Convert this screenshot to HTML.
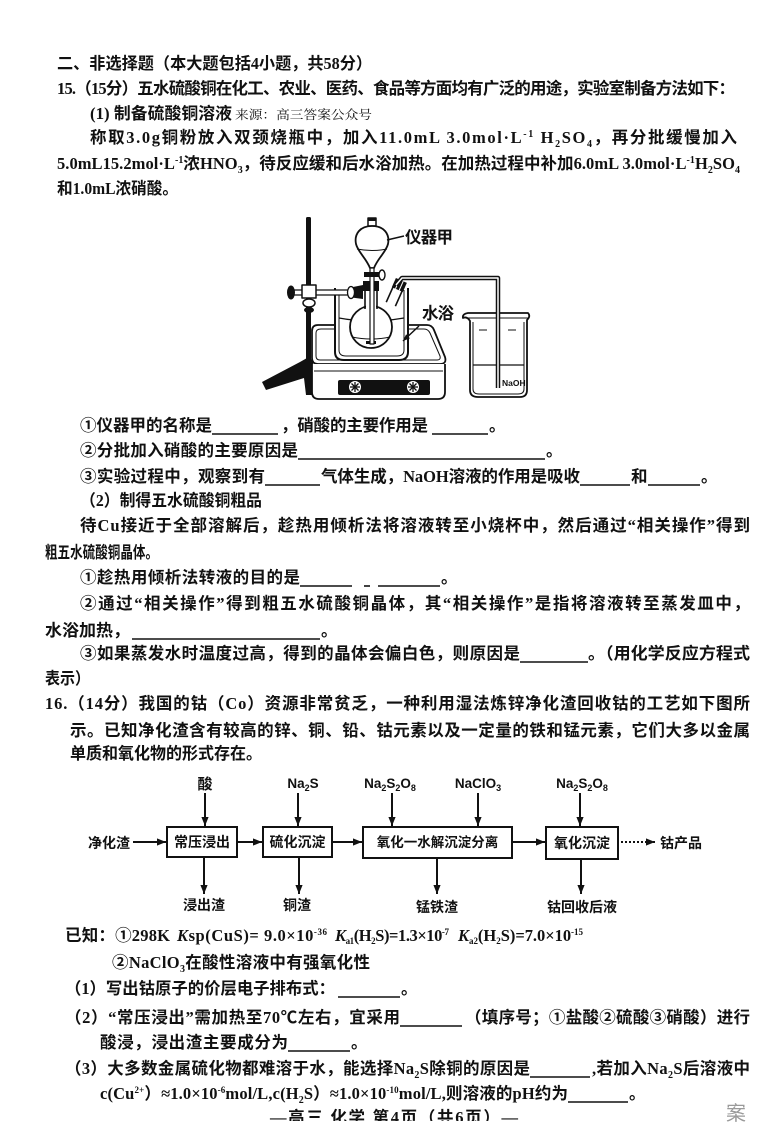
<!DOCTYPE html>
<html><head><meta charset="utf-8">
<style>
html,body{margin:0;padding:0;background:#fff;}
svg{display:block;}
text{font-family:"Liberation Serif","Noto Sans CJK SC",sans-serif;font-weight:bold;font-size:16.5px;fill:#111;}
.fc text{font-family:"Liberation Sans","Noto Sans CJK SC",sans-serif;font-size:14px;}
.ul{stroke:#111;stroke-width:1.6;}
</style></head>
<body>
<svg width="778" height="1141" viewBox="0 0 778 1141" xmlns="http://www.w3.org/2000/svg">
<defs>
<marker id="ah" viewBox="0 0 10 10" refX="10" refY="5" markerWidth="9" markerHeight="9" markerUnits="userSpaceOnUse" orient="auto">
<path d="M0,1 L10,5 L0,9 Z" fill="#111"/></marker>
<marker id="ah2" viewBox="0 0 10 10" refX="10" refY="5" markerWidth="7" markerHeight="7" markerUnits="userSpaceOnUse" orient="auto">
<path d="M0,1 L10,5 L0,9 Z" fill="#111"/></marker>
</defs>
<rect width="778" height="1141" fill="#fff"/>

<!-- Section header & Q15 text -->
<text x="57" y="69" textLength="315" lengthAdjust="spacingAndGlyphs">二、非选择题（本大题包括4小题，共58分）</text>
<text x="57" y="94" textLength="678" lengthAdjust="spacing">15.（15分）五水硫酸铜在化工、农业、医药、食品等方面均有广泛的用途，实验室制备方法如下：</text>
<text x="90" y="119" textLength="142" lengthAdjust="spacingAndGlyphs">(1) 制备硫酸铜溶液</text>
<text x="235" y="119" textLength="137" lengthAdjust="spacingAndGlyphs" style="font-family:'Liberation Serif','Noto Serif CJK SC',serif;font-size:12.5px;font-weight:normal;">来源：高三答案公众号</text>
<text x="90" y="143" textLength="647" lengthAdjust="spacing">称取3.0g铜粉放入双颈烧瓶中，加入11.0mL 3.0mol·L<tspan dy="-6" font-size="10">-1</tspan><tspan dy="6"> H</tspan><tspan dy="4" font-size="10">2</tspan><tspan dy="-4">SO</tspan><tspan dy="4" font-size="10">4</tspan><tspan dy="-4">，再分批缓慢加入</tspan></text>
<text x="57" y="169" textLength="683" lengthAdjust="spacing">5.0mL15.2mol·L<tspan dy="-6" font-size="10">-1</tspan><tspan dy="6">浓HNO</tspan><tspan dy="4" font-size="10">3</tspan><tspan dy="-4">，待反应缓和后水浴加热。在加热过程中补加6.0mL 3.0mol·L</tspan><tspan dy="-6" font-size="10">-1</tspan><tspan dy="6">H</tspan><tspan dy="4" font-size="10">2</tspan><tspan dy="-4">SO</tspan><tspan dy="4" font-size="10">4</tspan></text>
<text x="57" y="194" textLength="121" lengthAdjust="spacingAndGlyphs">和1.0mL浓硝酸。</text>

<!-- Apparatus -->
<g stroke="#111" stroke-width="1.8" fill="#fff" stroke-linejoin="round">
  <rect x="306" y="217" width="5" height="172" fill="#111" stroke="none" rx="1.5"/>
  <path d="M262,382 L300,362 L307,358 L313,360 L313,395 L306,395 L304,378 L266,390 Z" fill="#111" stroke="none"/>
  <path d="M318,325 L427,325 Q432,325 434,330 L445,357 Q447,364 440,364 L318,364 Q312,364 312,358 L312,331 Q312,325 318,325 Z"/>
  <path d="M321,329 L424,329 Q428,329 430,333 L440,356 Q441,360 437,360 L320,360 Q316,360 316,356 L316,333 Q316,329 321,329 Z" fill="none" stroke-width="1"/>
  <path d="M312,364 L312,392 Q312,399 319,399 L438,399 Q445,399 445,392 L445,364"/>
  <line x1="314" y1="371" x2="443" y2="371" stroke-width="1"/>
  <rect x="338" y="380" width="92" height="15" rx="2" fill="#111" stroke="none"/>
  <circle cx="355" cy="387" r="6" fill="#fff" stroke="none"/>
  <circle cx="413" cy="387" r="6" fill="#fff" stroke="none"/>
  <g stroke="#111" stroke-width="1.3">
    <line x1="350" y1="387" x2="360" y2="387"/><line x1="355" y1="382" x2="355" y2="392"/>
    <line x1="351.5" y1="383.5" x2="358.5" y2="390.5"/><line x1="358.5" y1="383.5" x2="351.5" y2="390.5"/>
    <line x1="408" y1="387" x2="418" y2="387"/><line x1="413" y1="382" x2="413" y2="392"/>
    <line x1="409.5" y1="383.5" x2="416.5" y2="390.5"/><line x1="416.5" y1="383.5" x2="409.5" y2="390.5"/>
  </g>
  <path d="M335,288 L335,352 Q335,360 344,360 L399,360 Q408,360 408,352 L408,288" stroke-width="2"/>
  <path d="M339,290 L339,350 Q339,356 346,356 L397,356 Q404,356 404,350 L404,290" fill="none" stroke-width="1"/>
  <path d="M339,318 Q371,324 404,318" fill="none" stroke-width="1.2"/>
  <circle cx="371" cy="327" r="21"/>
  <path d="M352,337 Q371,341 390,337" fill="none" stroke-width="1"/>
  <rect x="366" y="341" width="10" height="3" fill="#111" stroke="none"/>
  <rect x="366" y="284" width="10" height="28" fill="#fff" stroke="none"/>
  <path d="M365,309 L365,284 M377,284 L377,309" fill="none" stroke-width="1.6"/>
  <rect x="363" y="281" width="16" height="10" fill="#111" stroke="none"/>
  <g transform="translate(390,306) rotate(24)">
    <rect x="-5" y="-24" width="10" height="22" fill="#fff" stroke="none"/>
    <path d="M-5,-2 L-5,-24 M5,-24 L5,-2" fill="none" stroke-width="1.6"/>
    <rect x="-6" y="-28" width="12" height="10" fill="#111" stroke="none"/>
    <line x1="-2" y1="-28" x2="-2" y2="-18" stroke="#fff" stroke-width="1"/>
    <line x1="2" y1="-28" x2="2" y2="-18" stroke="#fff" stroke-width="1"/>
  </g>
  <rect x="290" y="290" width="66" height="5" stroke-width="1.3"/>
  <ellipse cx="291" cy="292.5" rx="4" ry="7" fill="#111" stroke="none"/>
  <rect x="302" y="285" width="14" height="13" stroke-width="1.5"/>
  <ellipse cx="309" cy="303" rx="6" ry="4" stroke-width="1.5"/>
  <ellipse cx="309" cy="310" rx="5" ry="3" fill="#111" stroke="none"/>
  <path d="M348,288 L363,285 L363,299 L348,297 Z" fill="#111" stroke="none"/>
  <ellipse cx="351" cy="292.5" rx="3.5" ry="6" fill="#fff" stroke-width="1.3"/>
  <rect x="368" y="218" width="8" height="8" stroke-width="1.5"/>
  <rect x="368" y="218" width="8" height="3" fill="#111" stroke="none"/>
  <path d="M372,226 C360,226 354,234 356,244 C358,252 366,258 370,268 L374,268 C378,258 386,252 388,244 C390,234 384,226 372,226 Z"/>
  <path d="M357,249 Q372,252 387,249" fill="none" stroke-width="1"/>
  <rect x="370" y="268" width="4" height="76" stroke-width="1.2"/>
  <rect x="364" y="272" width="16" height="5" fill="#111" stroke="none"/>
  <ellipse cx="382" cy="275" rx="3" ry="5" fill="#fff" stroke-width="1.4"/>
  <line x1="387" y1="240" x2="404" y2="236" stroke-width="1.5"/>
  <path d="M463,318 Q467,316 470,321 L470,390 Q470,397 478,397 L520,397 Q527,397 527,390 L527,320 Q531,316 528,313 L468,313 Q462,314 463,318 Z"/>
  <path d="M473,322 L473,389 Q473,394 479,394 L518,394 Q524,394 524,389 L524,322" fill="none" stroke-width="1"/>
  <line x1="466" y1="318" x2="528" y2="318" stroke-width="1"/>
  <line x1="473" y1="365" x2="524" y2="365" stroke-width="1.2"/>
  <line x1="479" y1="330" x2="487" y2="330" stroke-width="1"/>
  <line x1="508" y1="330" x2="516" y2="330" stroke-width="1"/>
  <polyline points="396,285 402,278 498,278 498,388" fill="none" stroke="#111" stroke-width="4.5"/>
  <polyline points="396,285 402,278 498,278 498,388" fill="none" stroke="#fff" stroke-width="1.5"/>
  <line x1="419" y1="326" x2="403" y2="341" stroke-width="1.5" marker-end="url(#ah2)"/>
</g>
<text x="405" y="243" textLength="48" lengthAdjust="spacing">仪器甲</text>
<text x="422" y="319" textLength="32" lengthAdjust="spacing">水浴</text>
<text x="502" y="386" style="font-family:'Liberation Sans',sans-serif;font-size:8.5px;">NaOH</text>

<!-- Q15 questions -->
<text x="80" y="431" textLength="132" lengthAdjust="spacingAndGlyphs">①仪器甲的名称是</text>
<line class="ul" x1="212" y1="434" x2="278" y2="434"/>
<text x="281" y="431" textLength="147" lengthAdjust="spacing">，硝酸的主要作用是</text>
<line class="ul" x1="432" y1="434" x2="488" y2="434"/>
<text x="489" y="431">。</text>

<text x="80" y="456" textLength="218" lengthAdjust="spacing">②分批加入硝酸的主要原因是</text>
<line class="ul" x1="298" y1="459" x2="545" y2="459"/>
<text x="546" y="456">。</text>

<text x="80" y="482" textLength="185" lengthAdjust="spacing">③实验过程中，观察到有</text>
<line class="ul" x1="265" y1="485" x2="320" y2="485"/>
<text x="321" y="482" textLength="259" lengthAdjust="spacing">气体生成，NaOH溶液的作用是吸收</text>
<line class="ul" x1="580" y1="485" x2="630" y2="485"/>
<text x="631" y="482">和</text>
<line class="ul" x1="648" y1="485" x2="700" y2="485"/>
<text x="701" y="482">。</text>

<text x="80" y="506" textLength="182" lengthAdjust="spacingAndGlyphs">（2）制得五水硫酸铜粗品</text>
<text x="80" y="531" textLength="670" lengthAdjust="spacing">待Cu接近于全部溶解后，趁热用倾析法将溶液转至小烧杯中，然后通过“相关操作”得到</text>
<text x="45" y="558" textLength="113" lengthAdjust="spacingAndGlyphs">粗五水硫酸铜晶体。</text>

<text x="80" y="583" textLength="220" lengthAdjust="spacing">①趁热用倾析法转液的目的是</text>
<line class="ul" x1="300" y1="586" x2="352" y2="586"/>
<line class="ul" x1="364" y1="586" x2="370" y2="586"/>
<line class="ul" x1="378" y1="586" x2="440" y2="586"/>
<text x="441" y="583">。</text>

<text x="80" y="609" textLength="670" lengthAdjust="spacing">②通过“相关操作”得到粗五水硫酸铜晶体，其“相关操作”是指将溶液转至蒸发皿中，</text>
<text x="45" y="636" textLength="85" lengthAdjust="spacingAndGlyphs">水浴加热，</text>
<line class="ul" x1="132" y1="639" x2="320" y2="639"/>
<text x="321" y="636">。</text>

<text x="80" y="659" textLength="440" lengthAdjust="spacing">③如果蒸发水时温度过高，得到的晶体会偏白色，则原因是</text>
<line class="ul" x1="520" y1="662" x2="588" y2="662"/>
<text x="588" y="659" textLength="162" lengthAdjust="spacingAndGlyphs">。（用化学反应方程式</text>
<text x="45" y="684" textLength="45" lengthAdjust="spacingAndGlyphs">表示）</text>

<!-- Q16 -->
<text x="45" y="709" textLength="705" lengthAdjust="spacing">16.（14分）我国的钴（Co）资源非常贫乏，一种利用湿法炼锌净化渣回收钴的工艺如下图所</text>
<text x="70" y="736" textLength="680" lengthAdjust="spacing">示。已知净化渣含有较高的锌、铜、铅、钴元素以及一定量的铁和锰元素，它们大多以金属</text>
<text x="70" y="759" textLength="192" lengthAdjust="spacingAndGlyphs">单质和氧化物的形式存在。</text>

<!-- Flowchart -->
<g class="fc">
  <text x="205" y="789" text-anchor="middle" style="font-size:15px;">酸</text>
  <text x="303" y="788" text-anchor="middle" style="font-size:13.5px;">Na<tspan dy="3" font-size="9">2</tspan><tspan dy="-3">S</tspan></text>
  <text x="390" y="788" text-anchor="middle" style="font-size:13.5px;">Na<tspan dy="3" font-size="9">2</tspan><tspan dy="-3">S</tspan><tspan dy="3" font-size="9">2</tspan><tspan dy="-3">O</tspan><tspan dy="3" font-size="9">8</tspan></text>
  <text x="478" y="788" text-anchor="middle" style="font-size:13.5px;">NaClO<tspan dy="3" font-size="9">3</tspan></text>
  <text x="582" y="788" text-anchor="middle" style="font-size:13.5px;">Na<tspan dy="3" font-size="9">2</tspan><tspan dy="-3">S</tspan><tspan dy="3" font-size="9">2</tspan><tspan dy="-3">O</tspan><tspan dy="3" font-size="9">8</tspan></text>

  <g stroke="#111" stroke-width="2" fill="none">
    <line x1="205" y1="793" x2="205" y2="826" marker-end="url(#ah)"/>
    <line x1="298" y1="793" x2="298" y2="826" marker-end="url(#ah)"/>
    <line x1="392" y1="793" x2="392" y2="826" marker-end="url(#ah)"/>
    <line x1="478" y1="793" x2="478" y2="826" marker-end="url(#ah)"/>
    <line x1="580" y1="793" x2="580" y2="826" marker-end="url(#ah)"/>

    <rect x="167" y="827" width="70" height="30" fill="#fff"/>
    <rect x="263" y="827" width="69" height="30" fill="#fff"/>
    <rect x="363" y="827" width="149" height="31" fill="#fff"/>
    <rect x="546" y="827" width="72" height="32" fill="#fff"/>

    <line x1="133" y1="842" x2="166" y2="842" marker-end="url(#ah)"/>
    <line x1="238" y1="842" x2="262" y2="842" marker-end="url(#ah)"/>
    <line x1="333" y1="842" x2="362" y2="842" marker-end="url(#ah)"/>
    <line x1="513" y1="842" x2="545" y2="842" marker-end="url(#ah)"/>
    <line x1="621" y1="842" x2="655" y2="842" stroke-dasharray="2,2" marker-end="url(#ah)"/>

    <line x1="204" y1="858" x2="204" y2="894" marker-end="url(#ah)"/>
    <line x1="299" y1="858" x2="299" y2="894" marker-end="url(#ah)"/>
    <line x1="437" y1="859" x2="437" y2="894" marker-end="url(#ah)"/>
    <line x1="581" y1="860" x2="581" y2="894" marker-end="url(#ah)"/>
  </g>

  <text x="88" y="848" textLength="42" lengthAdjust="spacingAndGlyphs">净化渣</text>
  <text x="202" y="847" text-anchor="middle">常压浸出</text>
  <text x="297.5" y="847" text-anchor="middle">硫化沉淀</text>
  <text x="437.5" y="847" text-anchor="middle" style="font-size:13.5px;">氧化一水解沉淀分离</text>
  <text x="582" y="848" text-anchor="middle">氧化沉淀</text>
  <text x="660" y="848" textLength="42" lengthAdjust="spacingAndGlyphs">钴产品</text>

  <text x="204" y="910" text-anchor="middle">浸出渣</text>
  <text x="297" y="910" text-anchor="middle">铜渣</text>
  <text x="437" y="912" text-anchor="middle">锰铁渣</text>
  <text x="582" y="912" text-anchor="middle">钴回收后液</text>
</g>

<!-- Known data -->
<text x="65" y="941" textLength="105" lengthAdjust="spacing">已知：①298K</text>
<text x="177" y="941" textLength="150" lengthAdjust="spacing"><tspan font-style="italic">K</tspan>sp(CuS)= 9.0×10<tspan dy="-6" font-size="9">-36</tspan></text>
<text x="335" y="941" textLength="114" lengthAdjust="spacing"><tspan font-style="italic">K</tspan><tspan dy="3" font-size="9">a1</tspan><tspan dy="-3">(H</tspan><tspan dy="3" font-size="9">2</tspan><tspan dy="-3">S)=1.3×10</tspan><tspan dy="-6" font-size="9">-7</tspan></text>
<text x="458" y="941" textLength="125" lengthAdjust="spacing"><tspan font-style="italic">K</tspan><tspan dy="3" font-size="9">a2</tspan><tspan dy="-3">(H</tspan><tspan dy="3" font-size="9">2</tspan><tspan dy="-3">S)=7.0×10</tspan><tspan dy="-6" font-size="9">-15</tspan></text>
<text x="112" y="968" textLength="258" lengthAdjust="spacing">②NaClO<tspan dy="4" font-size="10">3</tspan><tspan dy="-4">在酸性溶液中有强氧化性</tspan></text>

<text x="65" y="994" textLength="270" lengthAdjust="spacingAndGlyphs">（1）写出钴原子的价层电子排布式：</text>
<line class="ul" x1="338" y1="997" x2="400" y2="997"/>
<text x="401" y="994">。</text>

<text x="65" y="1023" textLength="335" lengthAdjust="spacing">（2）“常压浸出”需加热至70℃左右，宜采用</text>
<line class="ul" x1="400" y1="1026" x2="462" y2="1026"/>
<text x="465" y="1023" textLength="285" lengthAdjust="spacing">（填序号；①盐酸②硫酸③硝酸）进行</text>
<text x="100" y="1048" textLength="188" lengthAdjust="spacing">酸浸，浸出渣主要成分为</text>
<line class="ul" x1="288" y1="1051" x2="350" y2="1051"/>
<text x="351" y="1048">。</text>

<text x="65" y="1074" textLength="465" lengthAdjust="spacing">（3）大多数金属硫化物都难溶于水，能选择Na<tspan dy="4" font-size="10">2</tspan><tspan dy="-4">S除铜的原因是</tspan></text>
<line class="ul" x1="530" y1="1077" x2="590" y2="1077"/>
<text x="592" y="1074" textLength="158" lengthAdjust="spacing">,若加入Na<tspan dy="4" font-size="10">2</tspan><tspan dy="-4">S后溶液中</tspan></text>
<text x="100" y="1099" textLength="468" lengthAdjust="spacing">c(Cu<tspan dy="-6" font-size="9">2+</tspan><tspan dy="6">）≈1.0×10</tspan><tspan dy="-6" font-size="9">-6</tspan><tspan dy="6">mol/L,c(H</tspan><tspan dy="4" font-size="10">2</tspan><tspan dy="-4">S）≈1.0×10</tspan><tspan dy="-6" font-size="9">-10</tspan><tspan dy="6">mol/L,则溶液的pH约为</tspan></text>
<line class="ul" x1="568" y1="1102" x2="628" y2="1102"/>
<text x="629" y="1099">。</text>

<!-- footer (partially cut off in scan) -->
<text x="270" y="1123" textLength="248" lengthAdjust="spacing">—高三 化学 第4页（共6页）—</text>
<rect x="265" y="1121" width="260" height="20" fill="#fff"/>
<text x="726" y="1120" style="font-family:'Noto Sans CJK SC',sans-serif;font-weight:normal;font-size:20px;fill:#9a9a9a;">案</text>
</svg>
</body></html>
